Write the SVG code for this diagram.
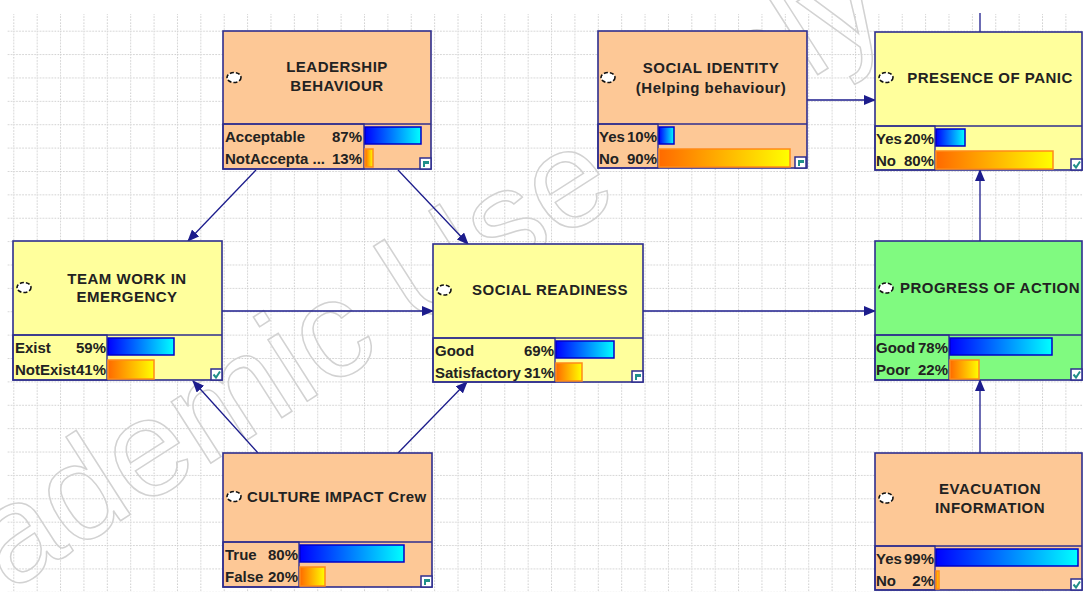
<svg xmlns="http://www.w3.org/2000/svg" width="1083" height="592" viewBox="0 0 1083 592">
<defs>
<style>
.hd{font-family:"Liberation Sans",Arial,sans-serif;font-weight:bold;font-size:15px;letter-spacing:0.5px;fill:#222;text-anchor:middle}
.st{font-family:"Liberation Sans",Arial,sans-serif;font-weight:bold;font-size:15px;fill:#222}
.pc{font-family:"Liberation Sans",Arial,sans-serif;font-weight:bold;font-size:15px;fill:#222;text-anchor:end}
.peach{fill:#fdc896;stroke:#2e2e8e;stroke-width:1.6}
.yel{fill:#ffff9c;stroke:#2e2e8e;stroke-width:1.6}
.grn{fill:#80fa80;stroke:#2e2e8e;stroke-width:1.6}
.div{stroke:#2e2e8e;stroke-width:1.6}
.lbl{fill:none;stroke:#2e2e8e;stroke-width:1.4}
.ico{fill:#fff;stroke:#111;stroke-width:1.6;stroke-dasharray:4 2}
.bb{fill:url(#gb);stroke:#0000c8;stroke-width:1.5}
.ob{fill:url(#go);stroke:#ff8a1a;stroke-width:1.5}
.ck{fill:#fff;stroke:#2e2e8e;stroke-width:1.5}
.tl{fill:#1f8f8a}
.tlc{fill:none;stroke:#1f8f8a;stroke-width:2}
.cn{stroke:#1c1c8c;stroke-width:1.3;fill:none}
.wm{font-family:"Liberation Sans",Arial,sans-serif;font-size:138px;fill:none;stroke:#d2d2d2;stroke-width:1.5}
</style>
<linearGradient id="gb" x1="0" y1="0" x2="1" y2="0"><stop offset="0" stop-color="#0000ff"/><stop offset="1" stop-color="#00ffff"/></linearGradient>
<linearGradient id="go" x1="0" y1="0" x2="1" y2="0"><stop offset="0" stop-color="#ff6a00"/><stop offset="1" stop-color="#ffff00"/></linearGradient>
<pattern id="grid" x="13.3" y="30.7" width="23.38" height="23.38" patternUnits="userSpaceOnUse"><path d="M0.5,0V23.38M0,0.5H23.38" stroke="#cccccc" stroke-width="1" stroke-dasharray="1.5 1.5" fill="none"/></pattern>
<marker id="ah" markerWidth="12" markerHeight="10" refX="11" refY="5" orient="auto" markerUnits="userSpaceOnUse"><path d="M0,0 L12,5 L0,10 z" fill="#1c1c8c"/></marker>
</defs>
<rect x="0" y="0" width="1083" height="592" fill="#fff"/>
<rect x="7" y="14" width="1076" height="578" fill="url(#grid)"/>
<text class="wm" transform="translate(-127,679) rotate(-32.6)">Academic Use Only</text>

<g id="connectors">
<line class="cn" x1="256" y1="170" x2="188" y2="241" marker-end="url(#ah)"/>
<line class="cn" x1="398" y1="170" x2="468" y2="244" marker-end="url(#ah)"/>
<line class="cn" x1="222" y1="311" x2="433" y2="311" marker-end="url(#ah)"/>
<line class="cn" x1="258" y1="453" x2="193" y2="381" marker-end="url(#ah)"/>
<line class="cn" x1="398" y1="453" x2="467" y2="382" marker-end="url(#ah)"/>
<line class="cn" x1="643" y1="311" x2="875" y2="311" marker-end="url(#ah)"/>
<line class="cn" x1="807" y1="100" x2="875" y2="100" marker-end="url(#ah)"/>
<line class="cn" x1="980" y1="241" x2="980" y2="170" marker-end="url(#ah)"/>
<line class="cn" x1="980" y1="453" x2="980" y2="380" marker-end="url(#ah)"/>
<line class="cn" x1="980" y1="13" x2="980" y2="32"/>
</g>

<g id="n-leadership">
<rect class="peach" x="223" y="31" width="208" height="138"/>
<line class="div" x1="223" y1="124" x2="431" y2="124"/>
<rect class="lbl" x="223" y="124" width="141" height="45"/>
<ellipse class="ico" cx="234" cy="77.5" rx="7" ry="5"/>
<text class="hd" x="337" y="72">LEADERSHIP</text>
<text class="hd" x="337" y="91">BEHAVIOUR</text>
<text class="st" x="225" y="142">Acceptable</text><text class="pc" x="362" y="142">87%</text>
<text class="st" x="225" y="164">NotAccepta ...</text><text class="pc" x="362" y="164">13%</text>
<rect class="bb" x="365" y="127" width="56" height="17"/>
<rect class="ob" x="365" y="149" width="8" height="18"/>
<rect class="ck" x="420" y="158" width="11" height="11"/>
<rect class="tl" x="423" y="161" width="6" height="3"/><rect class="tl" x="423" y="164" width="2" height="3"/>
</g>

<g id="n-teamwork">
<rect class="yel" x="13" y="241" width="209" height="139"/>
<line class="div" x1="13" y1="335" x2="222" y2="335"/>
<rect class="lbl" x="13" y="335" width="94" height="45"/>
<ellipse class="ico" cx="24" cy="287.5" rx="7" ry="5"/>
<text class="hd" x="127" y="284">TEAM WORK IN</text>
<text class="hd" x="127" y="302">EMERGENCY</text>
<text class="st" x="15" y="353">Exist</text><text class="pc" x="106" y="353">59%</text>
<text class="st" x="15" y="375">NotExist</text><text class="pc" x="106" y="375">41%</text>
<rect class="bb" x="108" y="338" width="66" height="17"/>
<rect class="ob" x="108" y="360" width="46" height="19"/>
<rect class="ck" x="211" y="369" width="11" height="11"/>
<path class="tlc" d="M213.5,374.5 L216,377.5 L220,371.5"/>
</g>

<g id="n-socialreadiness">
<rect class="yel" x="433" y="244" width="210" height="138"/>
<line class="div" x1="433" y1="338" x2="643" y2="338"/>
<rect class="lbl" x="433" y="338" width="122" height="44"/>
<ellipse class="ico" cx="444" cy="290" rx="7" ry="5"/>
<text class="hd" x="550" y="295">SOCIAL READINESS</text>
<text class="st" x="435" y="356">Good</text><text class="pc" x="554" y="356">69%</text>
<text class="st" x="435" y="378">Satisfactory</text><text class="pc" x="554" y="378">31%</text>
<rect class="bb" x="556" y="341" width="58" height="17"/>
<rect class="ob" x="556" y="363" width="26" height="18"/>
<rect class="ck" x="632" y="371" width="11" height="11"/>
<rect class="tl" x="635" y="374" width="6" height="3"/><rect class="tl" x="635" y="377" width="2" height="3"/>
</g>

<g id="n-socialidentity">
<rect class="peach" x="598" y="31" width="209" height="137"/>
<line class="div" x1="598" y1="124" x2="807" y2="124"/>
<rect class="lbl" x="598" y="124" width="60" height="44"/>
<ellipse class="ico" cx="608" cy="77.5" rx="7" ry="5"/>
<text class="hd" x="711" y="73">SOCIAL IDENTITY</text>
<text class="hd" x="711" y="93">(Helping behaviour)</text>
<text class="st" x="599" y="142">Yes</text><text class="pc" x="657" y="142">10%</text>
<text class="st" x="599" y="164">No</text><text class="pc" x="657" y="164">90%</text>
<rect class="bb" x="659" y="127" width="15" height="17"/>
<rect class="ob" x="659" y="149" width="131" height="18"/>
<rect class="ck" x="795" y="157" width="11" height="11"/>
<rect class="tl" x="798" y="160" width="6" height="3"/><rect class="tl" x="798" y="163" width="2" height="3"/>
</g>

<g id="n-presence">
<rect class="yel" x="875" y="32" width="207" height="138"/>
<line class="div" x1="875" y1="126" x2="1082" y2="126"/>
<rect class="lbl" x="875" y="126" width="60" height="44"/>
<ellipse class="ico" cx="886" cy="77.5" rx="7" ry="5"/>
<text class="hd" x="990" y="83">PRESENCE OF PANIC</text>
<text class="st" x="876" y="144">Yes</text><text class="pc" x="934" y="144">20%</text>
<text class="st" x="876" y="166">No</text><text class="pc" x="934" y="166">80%</text>
<rect class="bb" x="936" y="129" width="29" height="17"/>
<rect class="ob" x="936" y="151" width="117" height="18"/>
<rect class="ck" x="1071" y="159" width="11" height="11"/>
<path class="tlc" d="M1073.5,164.5 L1076,167.5 L1080,161.5"/>
</g>

<g id="n-progress">
<rect class="grn" x="875" y="241" width="207" height="139"/>
<line class="div" x1="875" y1="335" x2="1082" y2="335"/>
<rect class="lbl" x="875" y="335" width="74" height="45"/>
<ellipse class="ico" cx="886" cy="288" rx="7" ry="5"/>
<text class="hd" x="990" y="293">PROGRESS OF ACTION</text>
<text class="st" x="876" y="353">Good</text><text class="pc" x="948" y="353">78%</text>
<text class="st" x="876" y="375">Poor</text><text class="pc" x="948" y="375">22%</text>
<rect class="bb" x="950" y="338" width="102" height="17"/>
<rect class="ob" x="950" y="360" width="29" height="19"/>
<rect class="ck" x="1071" y="369" width="11" height="11"/>
<path class="tlc" d="M1073.5,374.5 L1076,377.5 L1080,371.5"/>
</g>

<g id="n-culture">
<rect class="peach" x="223" y="453" width="209" height="134"/>
<line class="div" x1="223" y1="542" x2="432" y2="542"/>
<rect class="lbl" x="223" y="542" width="76" height="45"/>
<ellipse class="ico" cx="234" cy="496.5" rx="7" ry="5"/>
<text class="hd" x="247" y="502" style="text-anchor:start;letter-spacing:0.4px">CULTURE IMPACT Crew</text>
<text class="st" x="225" y="560">True</text><text class="pc" x="298" y="560">80%</text>
<text class="st" x="225" y="582">False</text><text class="pc" x="298" y="582">20%</text>
<rect class="bb" x="300" y="545" width="104" height="17"/>
<rect class="ob" x="300" y="567" width="25" height="19"/>
<rect class="ck" x="421" y="576" width="11" height="11"/>
<rect class="tl" x="424" y="579" width="6" height="3"/><rect class="tl" x="424" y="582" width="2" height="3"/>
</g>

<g id="n-evacuation">
<rect class="peach" x="875" y="453" width="207" height="137"/>
<line class="div" x1="875" y1="546" x2="1082" y2="546"/>
<rect class="lbl" x="875" y="546" width="60" height="44"/>
<ellipse class="ico" cx="886" cy="498" rx="7" ry="5"/>
<text class="hd" x="990" y="494">EVACUATION</text>
<text class="hd" x="990" y="513">INFORMATION</text>
<text class="st" x="876" y="564">Yes</text><text class="pc" x="934" y="564">99%</text>
<text class="st" x="876" y="586">No</text><text class="pc" x="934" y="586">2%</text>
<rect class="bb" x="936" y="549" width="142" height="17"/>
<rect class="ob" x="936" y="571" width="3" height="18"/>
<rect class="ck" x="1071" y="579" width="11" height="11"/>
<path class="tlc" d="M1073.5,584.5 L1076,587.5 L1080,581.5"/>
</g>
</svg>
